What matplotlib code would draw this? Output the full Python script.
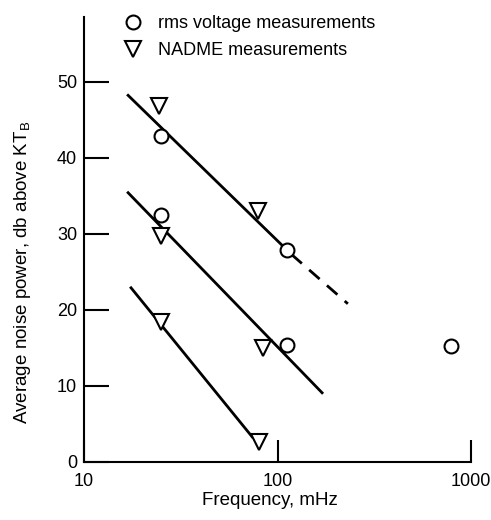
import numpy as np
import matplotlib
matplotlib.use('Agg')
import matplotlib.pyplot as plt
from matplotlib.lines import Line2D

plt.rcParams['font.family'] = ['Liberation Sans', 'DejaVu Sans']

# rms voltage measurements (circles)
rms_freq = [25, 25, 112, 112, 790]
rms_db = [42.8, 32.5, 27.9, 15.4, 15.3]

# NADME measurements (triangles)
nadme_freq = [24.5, 79, 25, 25, 84, 80]
nadme_db = [46.8, 33.0, 29.7, 18.4, 15.0, 2.6]

# fitted lines
line1_freq = [16.9, 118]
line1_db = [48.2, 27.3]
line1_dash_freq = [118, 231]
line1_dash_db = [27.3, 20.8]
line2_freq = [16.9, 170]
line2_db = [35.4, 9.1]
line3_freq = [17.5, 74]
line3_db = [22.9, 3.3]

fig = plt.figure(figsize=(4.91, 5.2), dpi=100)
ax = fig.add_axes([84/491, 1 - 462/520, (471-84)/491, (462-17)/520])

lw = 2.0
ax.plot(line1_freq, line1_db, color='black', lw=lw)
ax.plot(line1_dash_freq, line1_dash_db, color='black', lw=lw, dashes=(5, 3.5))
ax.plot(line2_freq, line2_db, color='black', lw=lw)
ax.plot(line3_freq, line3_db, color='black', lw=lw)

ax.plot(rms_freq, rms_db, 'o', ms=10, mfc='white', mec='black', mew=1.5, ls='none')
ax.plot(nadme_freq, nadme_db, 'v', ms=11, mfc='white', mec='black', mew=1.5, ls='none')

ax.set_xscale('log')
ax.set_xlim(10, 1000)
ax.set_ylim(0, 58.5)

ax.spines['top'].set_visible(False)
ax.spines['right'].set_visible(False)
ax.spines['left'].set_linewidth(1.5)
ax.spines['bottom'].set_linewidth(1.5)

ax.set_xticks([10, 100, 1000])
ax.set_xticklabels(['10', '100', '1000'])
ax.xaxis.set_minor_locator(matplotlib.ticker.NullLocator())
ax.set_yticks([0, 10, 20, 30, 40, 50])
ax.tick_params(axis='x', direction='in', length=16, width=1.5, labelsize=13, pad=8)
ax.tick_params(axis='y', direction='in', length=18, width=1.5, labelsize=13, pad=5)

ax.set_xlabel('Frequency, mHz', fontsize=13.5)
ax.xaxis.set_label_coords((270 - 84) / 387, -(492 - 462) / 445)
ax.set_ylabel('Average noise power, db above KT$_\\mathregular{B}$', fontsize=13.5)
ax.yaxis.set_label_coords((33 - 84) / 387, 0.427)

handles = [
    Line2D([], [], marker='o', ls='none', ms=10, mfc='white', mec='black', mew=1.5),
    Line2D([], [], marker='v', ls='none', ms=11, mfc='white', mec='black', mew=1.5),
]
fig.legend(handles, ['rms voltage measurements', 'NADME measurements'],
           loc='upper left', bbox_to_anchor=(124/491, 1 - 15/520), frameon=False,
           fontsize=13, handlelength=1.0, handletextpad=0.9, labelspacing=0.55,
           borderpad=0, borderaxespad=0)

fig.savefig('out.png', dpi=100)
